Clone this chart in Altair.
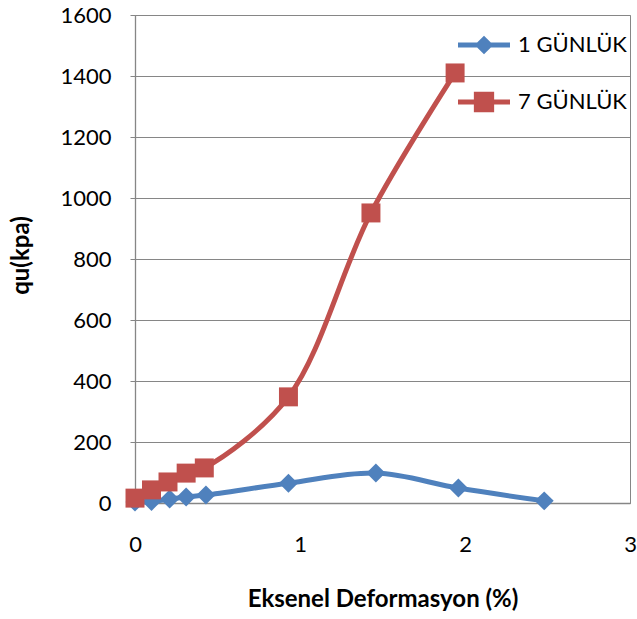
import altair as alt
import pandas as pd

series_names = ["1 GÜNLÜK", "7 GÜNLÜK"]
colors = ["#4F81BD", "#C0504D"]

x_1gun = [0, 0.1, 0.21, 0.31, 0.43, 0.93, 1.46, 1.96, 2.48]
y_1gun = [3, 5, 13, 20, 26, 65, 98, 49, 7]
x_7gun = [0, 0.1, 0.2, 0.31, 0.42, 0.93, 1.43, 1.94]
y_7gun = [16, 43, 69, 98, 115, 348, 951, 1410]

x_ticks = [0, 1, 2, 3]
y_ticks = [0, 200, 400, 600, 800, 1000, 1200, 1400, 1600]

df = pd.concat([
    pd.DataFrame({"def": x_1gun, "qu": y_1gun, "seri": series_names[0], "k": 0}),
    pd.DataFrame({"def": x_7gun, "qu": y_7gun, "seri": series_names[1], "k": 1}),
], ignore_index=True)

FONT = "Lato"

xenc = alt.X("def:Q", scale=alt.Scale(domain=[0, 3], nice=False, zero=False),
             axis=alt.Axis(values=x_ticks, title="Eksenel Deformasyon (%)", grid=False,
                           labelPadding=31, tickSize=0, titlePadding=32, format="d",
                           labelFlush=False))
yenc = alt.Y("qu:Q", scale=alt.Scale(domain=[0, 1600], nice=False),
             axis=alt.Axis(values=y_ticks, title="qu(kpa)", grid=True, tickSize=5, format="d",
                           labelPadding=19, titleX=-102, titleY=240, labelFlush=False))
color = alt.Color("seri:N", scale=alt.Scale(domain=series_names, range=colors), legend=None)

lines = alt.Chart(df).mark_line(interpolate="catmull-rom", strokeWidth=5).encode(
    x=xenc, y=yenc, color=color, detail="seri:N", order="def:Q")

points = alt.Chart(df).mark_point(filled=True, opacity=1, size=360).encode(
    x=xenc, y=yenc, color=color,
    shape=alt.Shape("seri:N", scale=alt.Scale(domain=series_names, range=["diamond", "square"]), legend=None),
    order="k:Q")

diamond_path = "M-1,-0.095H1V0.095H-1ZM0,-0.36L0.36,0L0,0.36L-0.36,0Z"
square_path = "M-1,-0.095H1V0.095H-1ZM-0.39,-0.39H0.39V0.39H-0.39Z"
leg = alt.Legend(title=None, orient="none", legendX=323, legendY=4, padding=0,
                 symbolSize=2704, symbolStrokeWidth=0, labelFontSize=22, labelFont=FONT,
                 labelColor="#000000", labelOffset=8, rowPadding=20, symbolOpacity=1)
legend_layer = alt.Chart(df).transform_filter("false").mark_point(filled=True, opacity=1).encode(
    x=xenc, y=yenc,
    shape=alt.Shape("seri:N", scale=alt.Scale(domain=series_names, range=[diamond_path, square_path]), legend=leg),
    color=alt.Color("seri:N", scale=alt.Scale(domain=series_names, range=colors), legend=leg),
)

chart = alt.layer(lines, points, legend_layer).resolve_scale(
    shape="independent", color="independent"
).properties(
    width=495, height=488,
    autosize=alt.AutoSizeParams(type="none"),
    padding={"left": 135, "top": 15, "right": 7, "bottom": 116},
).configure(background="white").configure_view(stroke="#868686", strokeWidth=1).configure_axis(
    labelFont=FONT, labelFontSize=22, labelColor="#000000",
    titleFont=FONT, titleFontSize=24, titleFontWeight="bold", titleColor="#000000",
    domainColor="#868686", gridColor="#868686", tickColor="#868686", domainWidth=1.3,
    gridWidth=1,
)

chart.save("out.html", embed_options={"renderer": "svg", "actions": False})
